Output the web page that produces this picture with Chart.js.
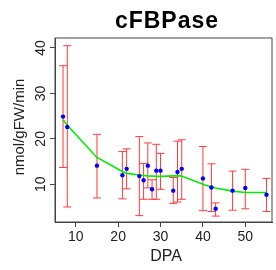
<!DOCTYPE html>
<html>
<head>
<meta charset="utf-8">
<script src="https://cdn.jsdelivr.net/npm/chart.js@4.4.1/dist/chart.umd.min.js"></script>
<style>
  html, body { margin: 0; padding: 0; background: #fff; }
  #wrap { width: 276px; height: 270px; }
</style>
</head>
<body>
<div id="wrap"><canvas id="chart"></canvas></div>
<script>
// values
const dpa   = [7, 8, 15, 21, 22, 25, 26, 27, 28, 29, 30, 33, 34, 35, 40, 42, 43, 47, 50, 55];
const mean  = [24.9, 22.6, 14.1, 12.0, 13.4, 11.8, 10.9, 14.1, 8.9, 13.0, 13.0, 8.6, 12.7, 13.4, 11.3, 9.3, 4.6, 8.6, 9.2, 7.7];
const upper = [36.1, 40.5, 21.0, 17.2, 17.8, 20.5, 14.6, 19.1, 11.0, 18.8, 16.8, 11.5, 19.5, 19.8, 18.3, 14.5, 5.9, 12.9, 13.3, 11.3];
const lower = [13.7, 5.0, 7.0, 6.8, 9.0, 3.1, 6.7, 9.2, 6.7, 6.7, 8.9, 5.8, 6.1, 6.7, 4.2, 4.0, 3.0, 4.3, 4.6, 4.0];
const fit   = [24.2, 23.0, 15.9, 12.8, 12.4, 12.05, 11.95, 11.85, 11.8, 11.75, 11.75, 11.85, 11.9, 11.8, 10.0, 9.4, 9.2, 8.5, 8.2, 8.2];
const xTicks = [10, 20, 30, 40, 50];
const yTicks = [10, 20, 30, 40];

const FONT = "'Liberation Sans', Arial, Helvetica, sans-serif";

const extras = {
    id: 'extras',
    beforeDatasetsDraw(chart) {
        const { ctx, scales: { x, y } } = chart;
        ctx.save();
        ctx.strokeStyle = '#ff3b3b';
        ctx.lineWidth = 1;
        dpa.forEach((d, i) => {
            const px = x.getPixelForValue(d);
            const top = y.getPixelForValue(upper[i]);
            const bot = y.getPixelForValue(lower[i]);
            ctx.beginPath();
            ctx.moveTo(px, top); ctx.lineTo(px, bot);
            ctx.moveTo(px - 4, top); ctx.lineTo(px + 4, top);
            ctx.moveTo(px - 4, bot); ctx.lineTo(px + 4, bot);
            ctx.stroke();
        });
        ctx.restore();
    },
    afterDraw(chart) {
        const { ctx, chartArea: a, scales: { y } } = chart;
        ctx.save();
        // box round the plot
        ctx.strokeStyle = '#444';
        ctx.lineWidth = 1;
        ctx.strokeRect(a.left, a.top, a.right - a.left, a.bottom - a.top);

        ctx.fillStyle = '#222';
        // y tick labels, parallel to the axis
        ctx.font = '14px ' + FONT;
        ctx.textAlign = 'center';
        ctx.textBaseline = 'alphabetic';
        yTicks.forEach(v => {
            ctx.save();
            ctx.translate(45, y.getPixelForValue(v));
            ctx.rotate(-Math.PI / 2);
            ctx.fillText(String(v), 0, 0);
            ctx.restore();
        });
        // y axis title
        ctx.save();
        ctx.font = '15px ' + FONT;
        ctx.translate(24, 127);
        ctx.rotate(-Math.PI / 2);
        ctx.fillText('nmol/gFW/min', 0, 0);
        ctx.restore();
        // x axis title
        ctx.font = '16px ' + FONT;
        ctx.fillText('DPA', 166, 261);
        // main title
        ctx.fillStyle = '#000';
        ctx.font = 'bold 23px ' + FONT;
        ctx.letterSpacing = '1px';
        ctx.fillText('cFBPase', 167, 28);
        ctx.restore();
    }
};

new Chart(document.getElementById('chart'), {
    type: 'scatter',
    data: {
        datasets: [
            {
                data: dpa.map((d, i) => ({ x: d, y: mean[i] })),
                backgroundColor: '#0000ff',
                borderColor: '#0000ff',
                borderWidth: 0,
                pointRadius: 2.2,
                order: 0
            },
            {
                data: dpa.map((d, i) => ({ x: d, y: fit[i] })),
                showLine: true,
                borderColor: '#00ee00',
                borderWidth: 1.6,
                pointRadius: 0,
                tension: 0,
                order: 1
            }
        ]
    },
    plugins: [extras],
    options: {
        responsive: true,
        maintainAspectRatio: false,
        animation: false,
        layout: { padding: { top: 38, left: 0, right: 0, bottom: 0 } },
        plugins: { legend: { display: false }, tooltip: { enabled: false } },
        scales: {
            x: {
                min: 5.1, max: 56.3,
                afterBuildTicks: s => { s.ticks = xTicks.map(v => ({ value: v })); },
                afterFit: s => { s.height = 48; },
                grid: { drawOnChartArea: false, drawTicks: true, tickLength: 5, color: '#444' },
                border: { display: true, color: '#444' },
                ticks: { color: '#222', font: { family: FONT, size: 14 }, padding: 2, maxRotation: 0 }
            },
            y: {
                min: 1.7, max: 42.2,
                afterBuildTicks: s => { s.ticks = yTicks.map(v => ({ value: v })); },
                afterFit: s => { s.width = 55; },
                grid: { drawOnChartArea: false, drawTicks: true, tickLength: 5, color: '#444' },
                border: { display: true, color: '#444' },
                ticks: { display: false }
            }
        }
    }
});
</script>
</body>
</html>
